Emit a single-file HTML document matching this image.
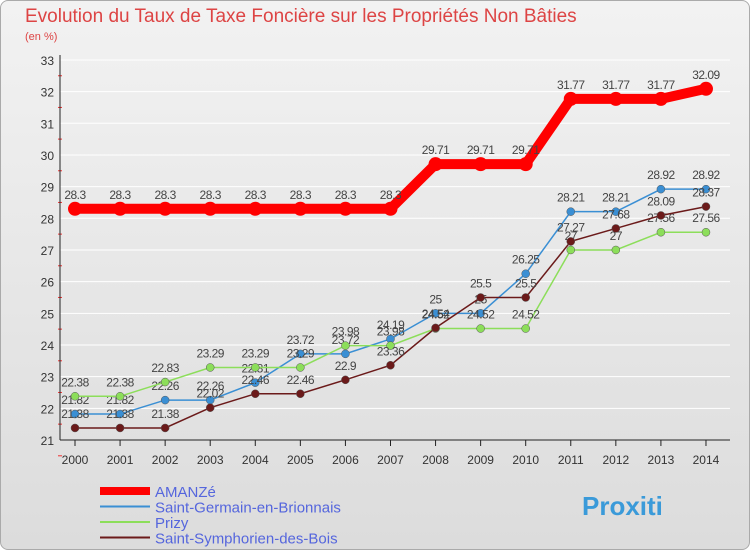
<!DOCTYPE html>
<html><head><meta charset="utf-8"><style>
body{margin:0;width:750px;height:550px;overflow:hidden;font-family:"Liberation Sans",sans-serif;}
#wrap{position:absolute;left:0;top:0;width:748px;height:548px;border:1px solid #aaa;border-radius:8px;background:linear-gradient(180deg,#f2f2f2 0%,#dcdcdc 100%);}
</style></head><body>
<div id="wrap"></div>
<svg id="c" width="750" height="550" style="position:absolute;left:0;top:0"></svg>
<script>
const years=[2000,2001,2002,2003,2004,2005,2006,2007,2008,2009,2010,2011,2012,2013,2014];
const amanze=[28.3,28.3,28.3,28.3,28.3,28.3,28.3,28.3,29.71,29.71,29.71,31.77,31.77,31.77,32.09];
const germain=[21.82,21.82,22.26,22.26,22.81,23.72,23.72,24.19,25,25,26.25,28.21,28.21,28.92,28.92];
const prizy=[22.38,22.38,22.83,23.29,23.29,23.29,23.98,23.98,24.52,24.52,24.52,27,27,27.56,27.56];
const symph=[21.38,21.38,21.38,22.02,22.46,22.46,22.9,23.36,24.54,25.5,25.5,27.27,27.68,28.09,28.37];
const yTicks=[21,22,23,24,25,26,27,28,29,30,31,32,33];
const NS='http://www.w3.org/2000/svg';
const svg=document.getElementById('c');
const X=i=>75+i*45.07;
const Y=v=>440-(v-21)*31.67;
function mk(t,a,p){const e=document.createElementNS(NS,t);for(const k in a)e.setAttribute(k,a[k]);(p||svg).appendChild(e);return e;}
let t=mk('text',{x:25,y:22,'font-size':19,fill:'#d44'});t.textContent='Evolution du Taux de Taxe Foncière sur les Propriétés Non Bâties';

t=mk('text',{x:25,y:40,'font-size':11,fill:'#d44'});t.textContent='(en %)';

// grid
yTicks.forEach(v=>{
 const g=mk('line',{x1:60,x2:730,y1:Y(v),y2:Y(v),stroke:'#fff','stroke-width':1});
 
 const l=mk('text',{x:54,y:Y(v)+5,'font-size':12,'text-anchor':'end',fill:'#333'});l.textContent=v;
 
 mk('line',{x1:58,x2:62,y1:Y(v)+15.8,y2:Y(v)+15.8,stroke:'#e33'});
});
mk('line',{x1:60,x2:60,y1:55,y2:440,stroke:'#222'});
mk('line',{x1:60,x2:730,y1:440,y2:440,stroke:'#222'});
years.forEach((yr,i)=>{
 mk('line',{x1:X(i),x2:X(i),y1:440,y2:446,stroke:'#222'});
 const l=mk('text',{x:X(i),y:464,'font-size':12,'text-anchor':'middle',fill:'#333'});l.textContent=yr;
 
});
function series(vals,color,w,dot,name){
 const g=mk('g',{});
 mk('polyline',{points:vals.map((v,i)=>X(i)+','+Y(v)).join(' '),fill:'none',stroke:color,'stroke-width':w},g);
 vals.forEach((v,i)=>{
  const c=mk('circle',{cx:X(i),cy:Y(v),r:dot,fill:color,stroke:'#555','stroke-width':dot>5?0:0.5},g);
  
  const l=mk('text',{x:X(i),y:Y(v)-10,'font-size':12,'text-anchor':'middle',fill:'#444','letter-spacing':'-0.5'},g);l.textContent=v;
 });
}
series(germain,'#3a8fd4',1.5,4,'saint-germain-series');
series(prizy,'#8cde5a',1.5,4,'prizy-series');
series(symph,'#6b1a1a',1.5,4,'saint-symphorien-series');
series(amanze,'#f00',10,7,'amanze-series');
// legend
const leg=[['AMANZé','#f00',8],['Saint-Germain-en-Brionnais','#3a8fd4',2],['Prizy','#8cde5a',2],['Saint-Symphorien-des-Bois','#6b1a1a',2]];
leg.forEach((e,i)=>{
 const y=491+i*15.5;
 const g=mk('g',{});
 mk('line',{x1:100,x2:150,y1:y,y2:y,stroke:e[1],'stroke-width':e[2]},g);
 const l=mk('text',{x:155,y:y+6,'font-size':15,fill:'#5566dd'},g);l.textContent=e[0];
});
t=mk('text',{x:582,y:515,'font-size':26,'font-weight':'bold',fill:'#3a9ad9'});t.textContent='Proxiti';

</script>
</body></html>
